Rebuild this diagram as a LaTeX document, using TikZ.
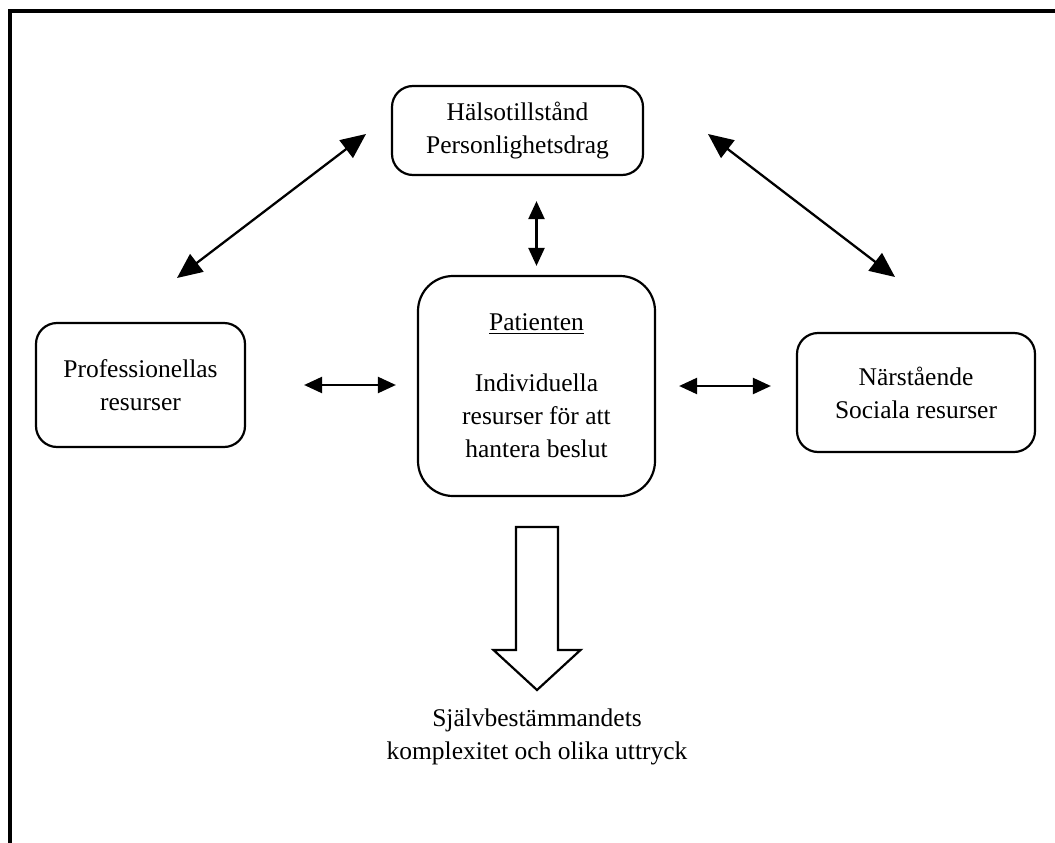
\documentclass[tikz,border=0pt]{standalone}
\usepackage{fontspec}
\setmainfont{Liberation Serif}
\usetikzlibrary{arrows.meta,positioning,calc}

\begin{document}
\begin{tikzpicture}[
  box/.style={draw,line width=1.25pt,rounded corners=0.42cm,align=center,inner sep=0pt,
    font=\fontsize{14.5}{18.8}\selectfont},
  link/.style={line width=1.3pt,{Triangle[length=0.5cm,width=0.44cm]}-{Triangle[length=0.5cm,width=0.44cm]}},
  short/.style={line width=1.3pt,{Triangle[length=0.36cm,width=0.32cm]}-{Triangle[length=0.36cm,width=0.32cm]}},
  lab/.style={align=center,font=\fontsize{14.5}{18.8}\selectfont}
]
\useasboundingbox (0,0) rectangle (21.1,-16.86);
\draw[line width=1.8pt] (0.2,-16.86) -- (0.2,-0.22) -- (21.1,-0.22);

\node[box,minimum width=5.02cm,minimum height=1.78cm] (health) at (10.35,-2.61) {H\"alsotillst\r{a}nd\\Personlighetsdrag};
\node[box,minimum width=4.18cm,minimum height=2.48cm] (prof) at (2.81,-7.7) {Professionellas\\resurser};
\node[box,minimum width=4.74cm,minimum height=4.4cm,rounded corners=0.7cm] (patient) at (10.73,-7.72)
  {\underline{Patienten}\\[0.56cm]Individuella\\resurser f\"or att\\hantera beslut};
\node[box,minimum width=4.76cm,minimum height=2.38cm] (kin) at (18.32,-7.85) {N\"arst\r{a}ende\\Sociala resurser};

\coordinate (dl1) at (3.54,-5.56);
\coordinate (dl2) at (7.32,-2.68);
\coordinate (dr1) at (14.16,-2.68);
\coordinate (dr2) at (17.9,-5.54);
\draw[link] (dl1) -- (dl2);
\draw[link] (dr1) -- (dr2);
\draw[short,shorten <=0.5cm,shorten >=0.18cm] (patient.north |- health.south) -- (patient.north);
\draw[short,shorten <=1.16cm,shorten >=0.42cm] (prof.east) -- (prof.east -| patient.west);
\draw[short,shorten <=0.46cm,shorten >=0.5cm] (patient.east) -- (patient.east -| kin.west);

\coordinate (arr) at (10.74,-10.54);
\draw[line width=1.25pt,fill=white] ($(arr)+(-0.42,0)$) -- ($(arr)+(0.42,0)$) -- ($(arr)+(0.42,-2.46)$)
  -- ($(arr)+(0.87,-2.46)$) -- ($(arr)+(0,-3.26)$) -- ($(arr)+(-0.87,-2.46)$) -- ($(arr)+(-0.42,-2.46)$) -- cycle;
\node[lab] (result) at (10.74,-14.74) {Sj\"alvbest\"ammandets\\komplexitet och olika uttryck};
\end{tikzpicture}
\end{document}
